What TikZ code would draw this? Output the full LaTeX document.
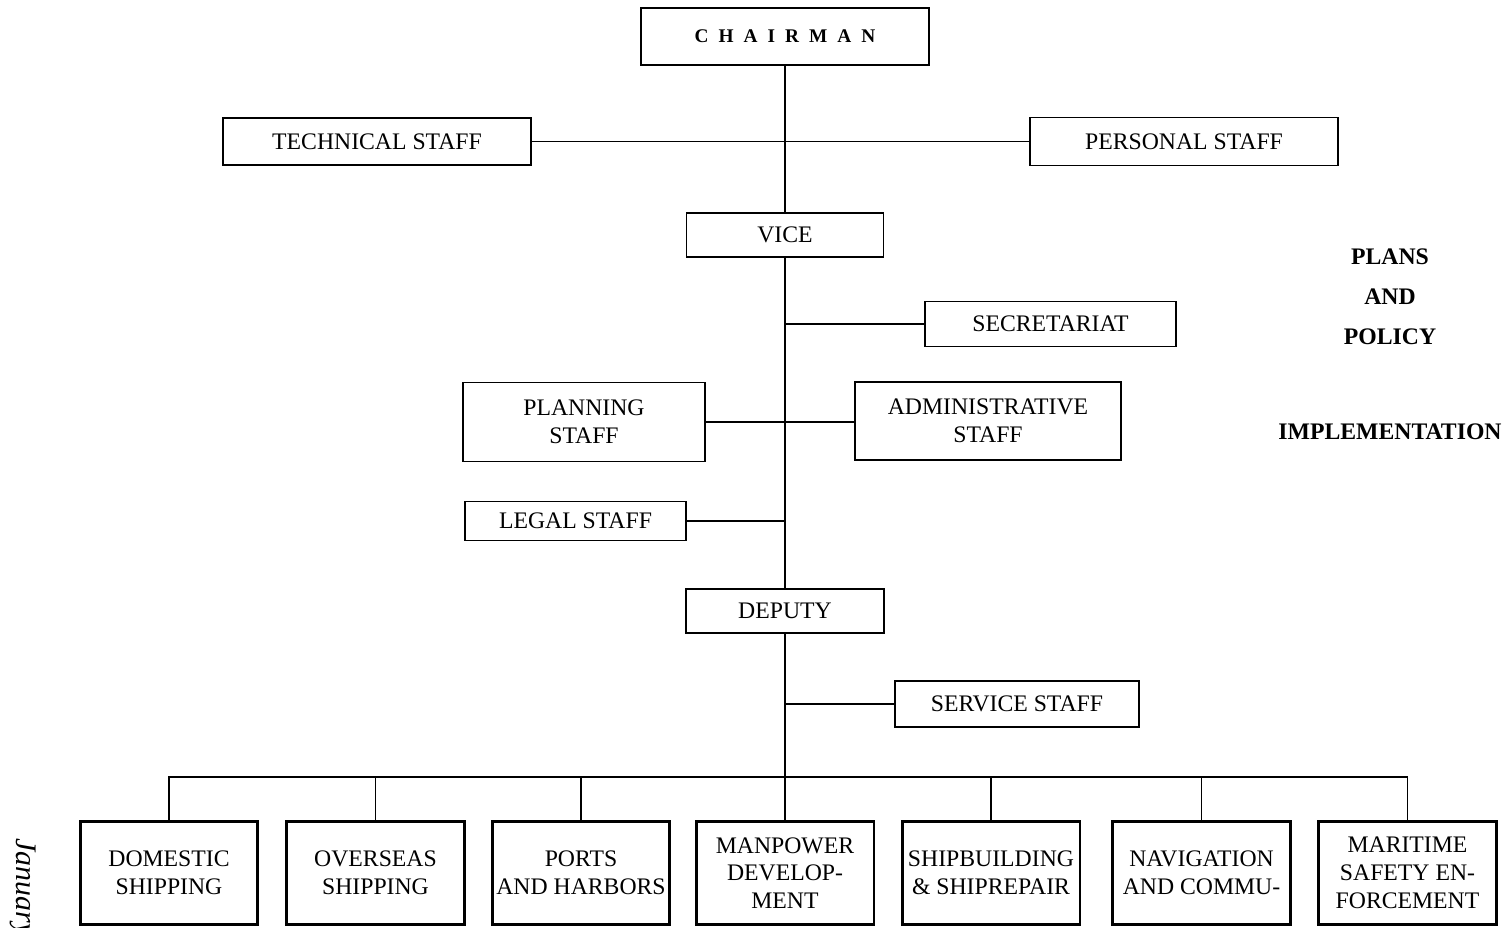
\documentclass[tikz,border=0pt]{standalone}
\usepackage{fontspec}
\setmainfont{Liberation Serif}

\tikzset{
  box/.style={draw, line width=0.8pt, inner sep=0pt, align=center,
    font=\fontsize{13.5}{15.8}\selectfont},
  unit/.style={draw, line width=1.7pt, inner sep=0pt, align=center,
    minimum width=3.56cm, minimum height=2.08cm,
    font=\fontsize{13.5}{15.8}\selectfont},
  level/.style={align=center, font=\fontsize{13.5}{22.8}\selectfont\bfseries}
}
\newcommand{\ls}{\kern5.7pt}

\begin{document}
\begin{tikzpicture}[x=0.02cm, y=-0.02cm, line width=0.8pt]
    \useasboundingbox (0,0) rectangle (1511,928);

    \node[box, minimum width=5.76cm, minimum height=1.14cm, font=\fontsize{11}{13}\selectfont\bfseries]
      (chair) at (785,36.5) {C\ls H\ls A\ls I\ls R\ls M\ls A\ls N};
    \node[box, minimum width=6.16cm, minimum height=0.94cm] (tech) at (377,141.5) {TECHNICAL STAFF};
    \node[box, minimum width=6.16cm, minimum height=0.96cm] (pers) at (1184,141.5) {PERSONAL STAFF};
    \node[box, minimum width=3.94cm, minimum height=0.88cm] (vice) at (785,235) {VICE};
    \node[box, minimum width=5.02cm, minimum height=0.90cm] (sec) at (1050.5,324) {SECRETARIAT};
    \node[box, minimum width=4.84cm, minimum height=1.58cm] (plan) at (584,422) {PLANNING\\STAFF};
    \node[box, minimum width=5.32cm, minimum height=1.56cm] (adm) at (988,421) {ADMINISTRATIVE\\STAFF};
    \node[box, minimum width=4.42cm, minimum height=0.78cm] (legal) at (575.5,521) {LEGAL STAFF};
    \node[box, minimum width=3.96cm, minimum height=0.88cm] (deputy) at (785,611) {DEPUTY};
    \node[box, minimum width=4.88cm, minimum height=0.92cm] (serv) at (1017,704) {SERVICE STAFF};

    \node[unit] (dom) at (169,873) {DOMESTIC\\SHIPPING};
    \node[unit] (ovs) at (375.5,873) {OVERSEAS\\SHIPPING};
    \node[unit] (port) at (581,873) {PORTS\\AND HARBORS};
    \node[unit] (man) at (785,873) {MANPOWER\\DEVELOP-\\MENT};
    \node[unit] (ship) at (991,873) {SHIPBUILDING\\\& SHIPREPAIR};
    \node[unit] (nav) at (1201.5,873) {NAVIGATION\\AND COMMU-};
    \node[unit] (mar) at (1407.5,873) {MARITIME\\SAFETY EN-\\FORCEMENT};

    \node[level] (plans) at (1390,297) {PLANS\\AND\\POLICY};
    \node[level] (impl) at (1390,432) {IMPLEMENTATION};
    \node[rotate=-90, anchor=base west, font=\fontsize{17}{20}\selectfont\itshape]
      (month) at (16,832) {January};

    \coordinate (bus) at (785,777);

    \draw (chair) -- (vice);
    \draw (vice) -- (deputy);
    \draw (deputy) -- (bus);
    \draw (tech) -- (pers);
    \draw (sec.west) -- (sec.west -| vice.south);
    \draw (plan.east) -- (plan.east -| adm.west);
    \draw (legal.east) -- (legal.east -| vice.south);
    \draw (serv.west) -- (serv.west -| deputy.south);

    \draw (dom.north) |- (bus) -| (mar.north);
    \foreach \u in {ovs,port,man,ship,nav}
      \draw (\u.north) -- (\u.north |- bus);
\end{tikzpicture}
\end{document}
